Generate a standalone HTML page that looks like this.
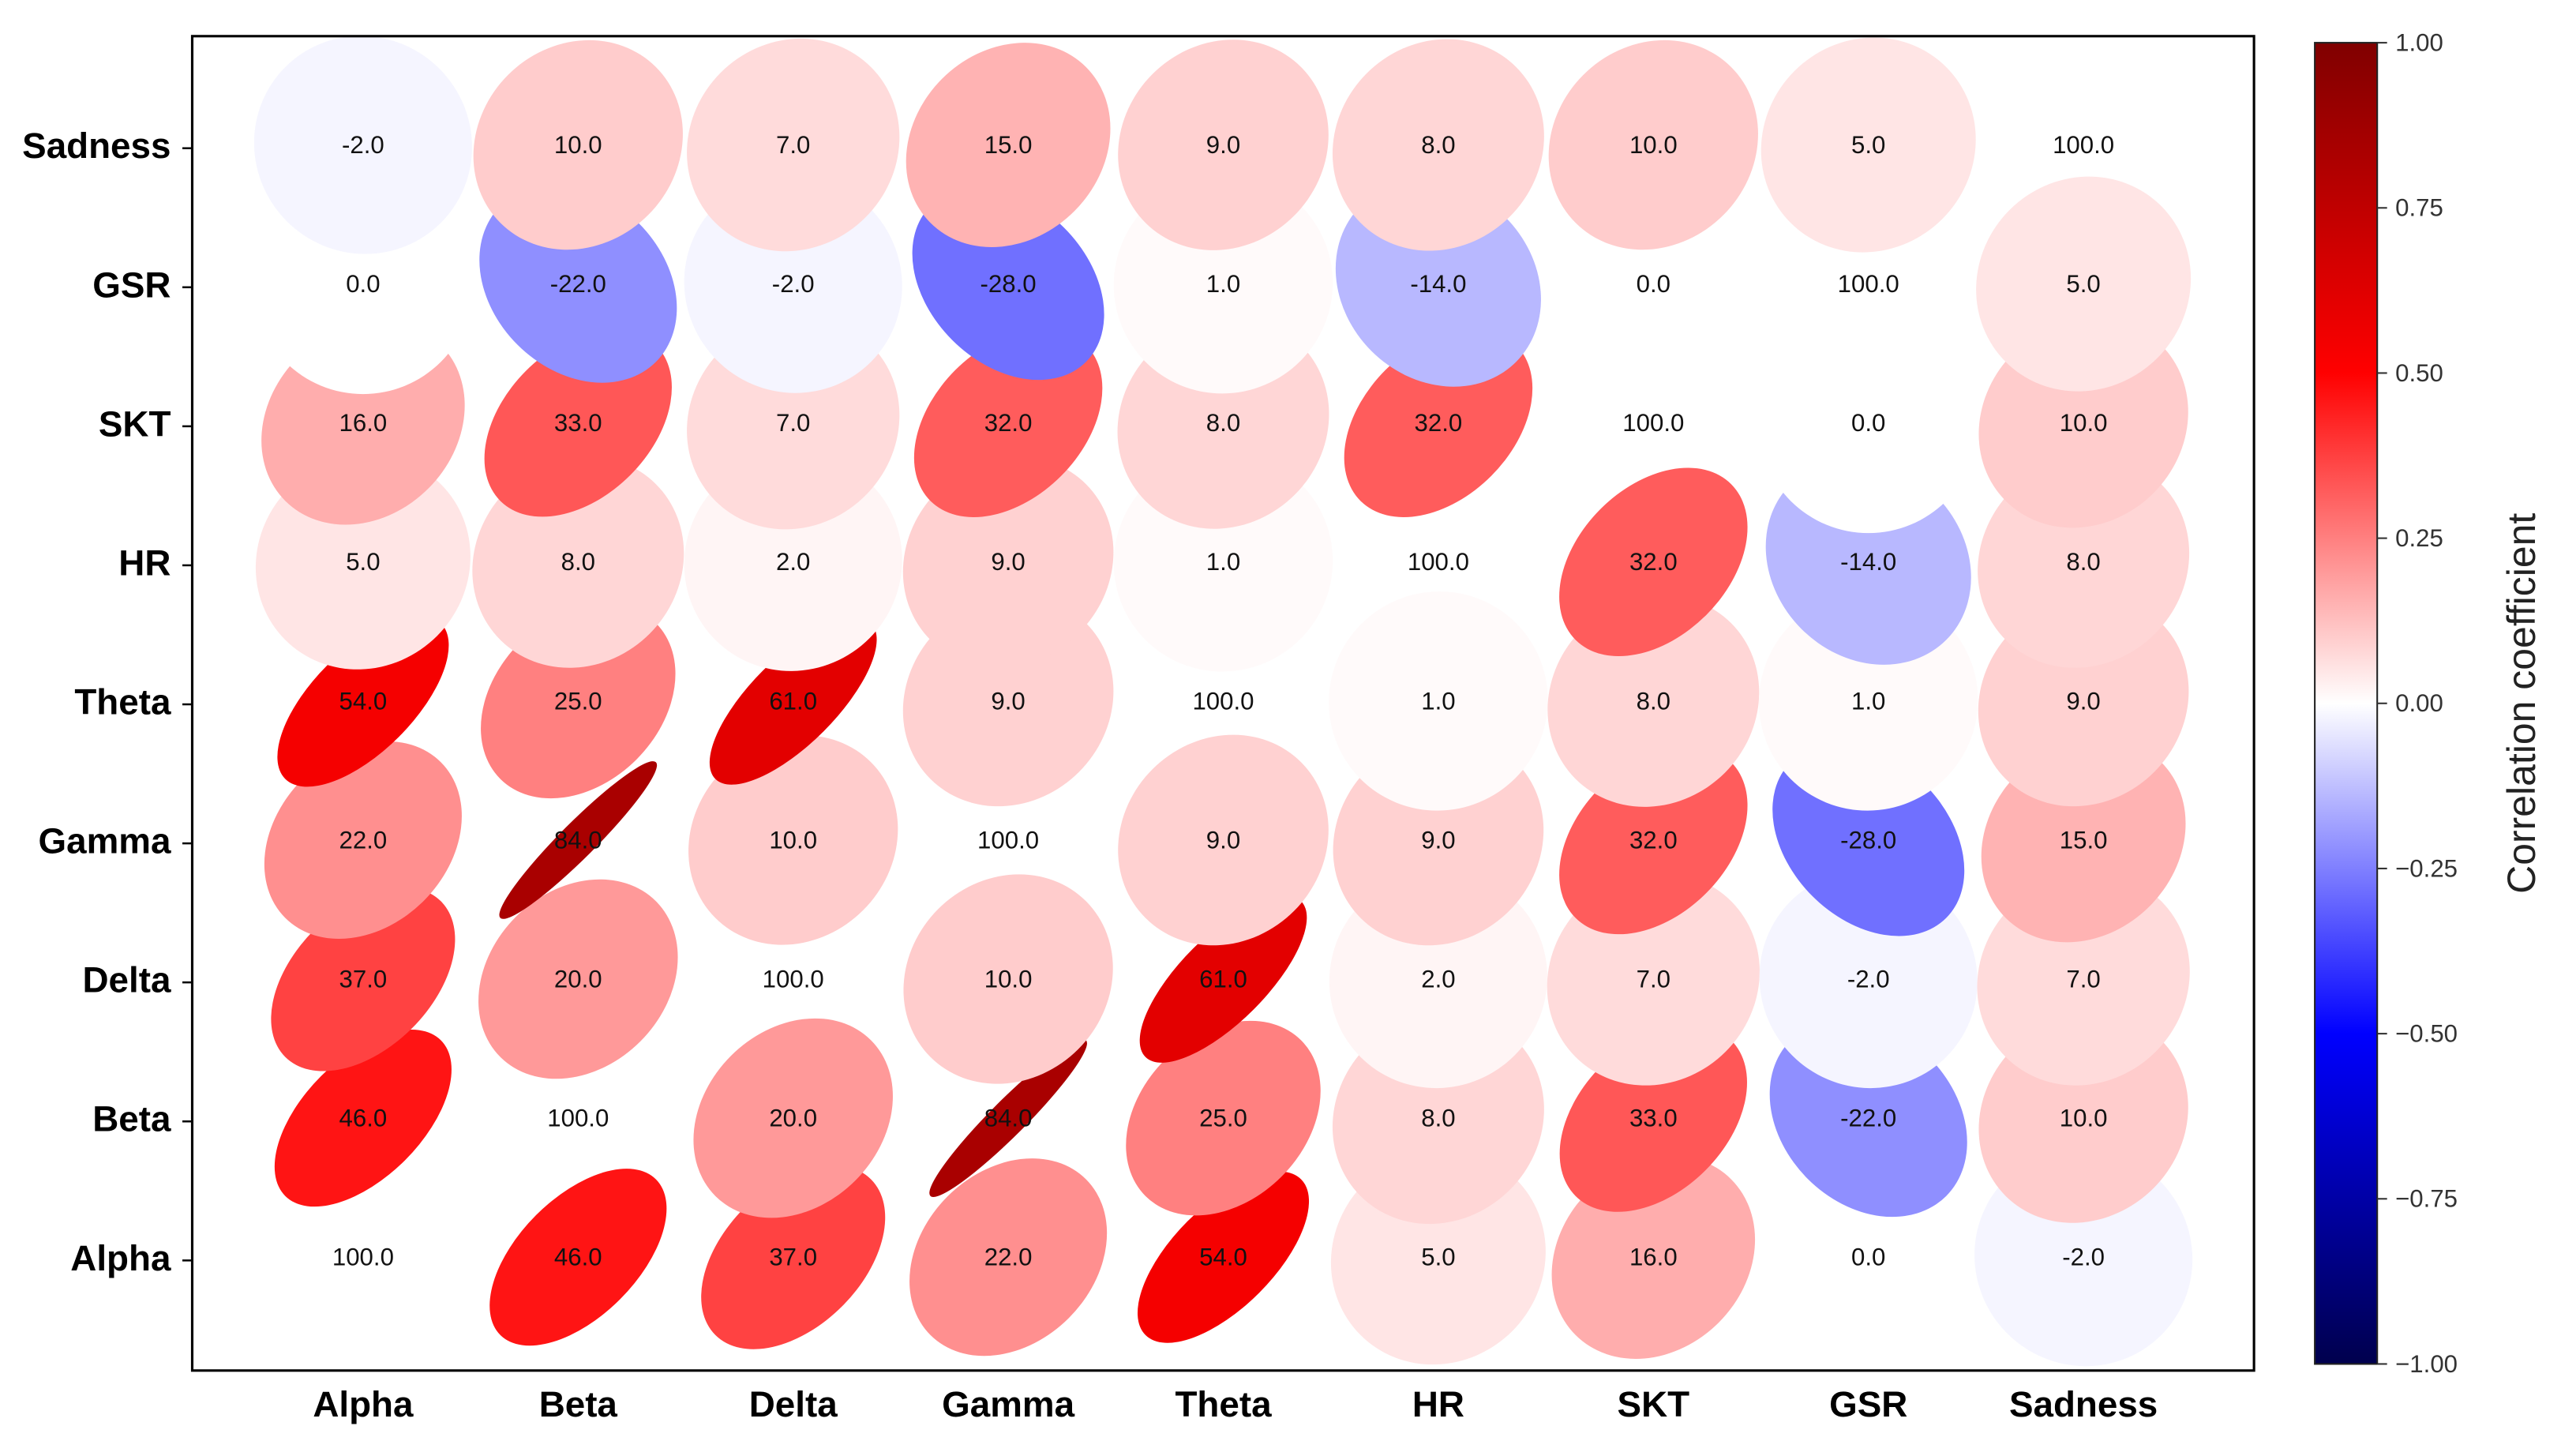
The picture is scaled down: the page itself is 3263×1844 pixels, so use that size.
<!DOCTYPE html>
<html><head><meta charset="utf-8"><style>
html,body{margin:0;padding:0;background:#fff;}
svg{display:block;}
text{font-family:"Liberation Sans",sans-serif;}
</style></head><body>
<svg id="chart" width="3263" height="1844" viewBox="0 0 1568 886" preserveAspectRatio="none" xmlns="http://www.w3.org/2000/svg">
<defs>
<linearGradient id="cbgrad" x1="0" y1="1" x2="0" y2="0">
<stop offset="0" stop-color="#00004d"/>
<stop offset="0.25" stop-color="#0000ff"/>
<stop offset="0.5" stop-color="#ffffff"/>
<stop offset="0.75" stop-color="#ff0000"/>
<stop offset="1" stop-color="#800000"/>
</linearGradient>
</defs>
<g id="cells"></g>
<g id="labels"></g>
<rect x="117" y="22" width="1255" height="812" fill="none" stroke="#000" stroke-width="1.5"/>
<g id="axes"></g>
<rect x="1409" y="26" width="38" height="804" fill="url(#cbgrad)" stroke="#222" stroke-width="1"/>
<g id="cbticks"></g>
<text x="1543" y="428" font-size="24" fill="#222" text-anchor="middle" transform="rotate(-90 1543 428)">Correlation coefficient</text>
</svg>
<script>
const vars = ["Alpha","Beta","Delta","Gamma","Theta","HR","SKT","GSR","Sadness"];
const rowAlpha   = [100,46,37,22,54,5,16,0,-2];
const rowBeta    = [46,100,20,84,25,8,33,-22,10];
const rowDelta   = [37,20,100,10,61,2,7,-2,7];
const rowGamma   = [22,84,10,100,9,9,32,-28,15];
const rowTheta   = [54,25,61,9,100,1,8,1,9];
const rowHR      = [5,8,2,9,1,100,32,-14,8];
const rowSKT     = [16,33,7,32,8,32,100,0,10];
const rowGSR     = [0,-22,-2,-28,1,-14,0,100,5];
const rowSadness = [-2,10,7,15,9,8,10,5,100];
const cbTicks = [1,0.75,0.5,0.25,0,-0.25,-0.5,-0.75,-1];
const matrix = [rowAlpha,rowBeta,rowDelta,rowGamma,rowTheta,rowHR,rowSKT,rowGSR,rowSadness];

const NS="http://www.w3.org/2000/svg";
const xPos = i => 221 + i*130.9;
const yPos = j => 765 - j*84.6;
const cbY = v => 428 - v*402;
function seismic(v){
  const t=(v+1)/2;
  const stops=[[0,[0,0,77]],[0.25,[0,0,255]],[0.5,[255,255,255]],[0.75,[255,0,0]],[1,[128,0,0]]];
  for(let k=0;k<stops.length-1;k++){
    const a=stops[k],b=stops[k+1];
    if(t<=b[0]){const f=(t-a[0])/(b[0]-a[0]);
      return "rgb("+a[1].map((c,i)=>Math.round(c+(b[1][i]-c)*f)).join(",")+")";}
  }
  return "rgb(128,0,0)";
}
function mk(tag,attrs){const e=document.createElementNS(NS,tag);for(const k in attrs)e.setAttribute(k,attrs[k]);return e;}
const cells=document.getElementById("cells"),labels=document.getElementById("labels"),axes=document.getElementById("axes"),cbt=document.getElementById("cbticks");

for(let j=0;j<vars.length;j++){
  for(let i=0;i<vars.length;i++){
    const v=matrix[j][i]/100, cx=xPos(i), cy=yPos(j);
    const ry=67*(1-Math.abs(v)), rx=67;
    if(ry>0.3){
      const e=mk("ellipse",{cx:cx,cy:cy,rx:rx,ry:ry,fill:seismic(v),transform:"rotate("+(v>=0?-45:45)+" "+cx+" "+cy+")"});
      
      
      cells.appendChild(e);
    }
    const t=mk("text",{x:cx,y:cy+5,"font-size":15,"text-anchor":"middle",fill:"#111"});
    t.textContent=matrix[j][i].toFixed(1);
    
    
    labels.appendChild(t);
  }
}
vars.forEach((n,i)=>{
  const tx=mk("text",{x:xPos(i),y:862,"font-size":22,"font-weight":"bold","text-anchor":"middle",fill:"#000"});
  tx.textContent=n;
  
  
  axes.appendChild(tx);
  const ty=mk("text",{x:104,y:yPos(i)+8,"font-size":22,"font-weight":"bold","text-anchor":"end",fill:"#000"});
  ty.textContent=n;
  
  
  axes.appendChild(ty);
  const tk=mk("line",{x1:111,x2:117,y1:yPos(i)+2,y2:yPos(i)+2,stroke:"#000","stroke-width":1.2});
  
  
  axes.appendChild(tk);
});
cbTicks.forEach(v=>{
  const y=cbY(v);
  const l=mk("line",{x1:1447,x2:1453,y1:y,y2:y,stroke:"#333","stroke-width":1});
  
  
  cbt.appendChild(l);
  const t=mk("text",{x:1458,y:y+5,"font-size":15,fill:"#333"});
  t.textContent=(v<0?"\u2212"+Math.abs(v).toFixed(2):v.toFixed(2));
  
  
  cbt.appendChild(t);
});
</script>
</body></html>
